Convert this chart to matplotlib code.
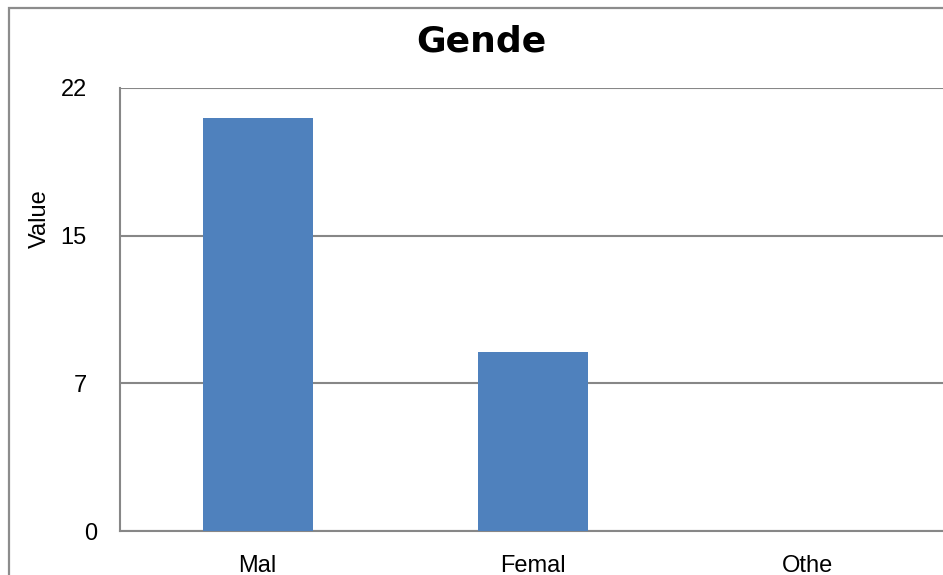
import numpy as np
import matplotlib
matplotlib.use("Agg")
import matplotlib.pyplot as plt
import matplotlib.transforms as mtransforms
from matplotlib.patches import Rectangle

plt.rcParams['font.family'] = ['Liberation Sans', 'DejaVu Sans']

# Chart data
categories = ["Mal", "Femal", "Othe"]
values = [20.5, 8.9, 0.0]
axis_max = 22
n_ticks = 4

W, H, DPI = 943, 575, 100
fig = plt.figure(figsize=(W / DPI, H / DPI), dpi=DPI)
fig.patch.set_facecolor("white")

# Outer chart frame (runs past the right and bottom edges)
frame_color = "#8c8c8c"
fig.patches.append(Rectangle((9 / W, -0.2), 1.2, (H - 8) / H + 0.2,
                             transform=fig.transFigure, fill=False,
                             edgecolor=frame_color, linewidth=1.6, zorder=0))

# Plot area in pixel units
left_px, right_px, top_px, bottom_px = 120, 945, 88, 531
ax = fig.add_axes([left_px / W, (H - bottom_px) / H,
                   (right_px - left_px) / W, (bottom_px - top_px) / H])
ax.set_facecolor("none")

x = np.arange(len(categories))
ax.bar(x, values, width=0.4, color="#4F81BD", zorder=3)

ax.set_xlim(-0.5, len(categories) - 0.5)
ax.set_ylim(0, axis_max)

yticks = np.linspace(0, axis_max, n_ticks)
ax.set_yticks(yticks)
ax.set_yticklabels([f"{t:.0f}" for t in yticks])
ax.set_xticks(x)
ax.set_xticklabels(categories)

grid_color = "#878787"
ax.yaxis.grid(True, color=grid_color, linewidth=1.5, zorder=1)
ax.set_axisbelow(True)

for side in ["top", "right"]:
    ax.spines[side].set_visible(False)
for side in ["left", "bottom"]:
    ax.spines[side].set_color(grid_color)
    ax.spines[side].set_linewidth(1.5)

ax.tick_params(axis="both", length=0, labelsize=17, colors="black")
ax.tick_params(axis="y", pad=24)
ax.tick_params(axis="x", pad=17)

# the zero label sits a little further right
zero_label = ax.get_yticklabels()[0]
zero_label.set_transform(zero_label.get_transform() +
                         mtransforms.ScaledTranslation(11 / DPI, 0, fig.dpi_scale_trans))

fig.text(40 / W, (H - 219) / H, "Value", rotation=90, ha="center", va="center",
         fontsize=17)

fig.text(481 / W, (H - 52) / H, "Gende", ha="center", va="baseline",
         fontsize=26, fontweight="bold", family=["DejaVu Sans"])

fig.savefig("out.png", dpi=DPI)
